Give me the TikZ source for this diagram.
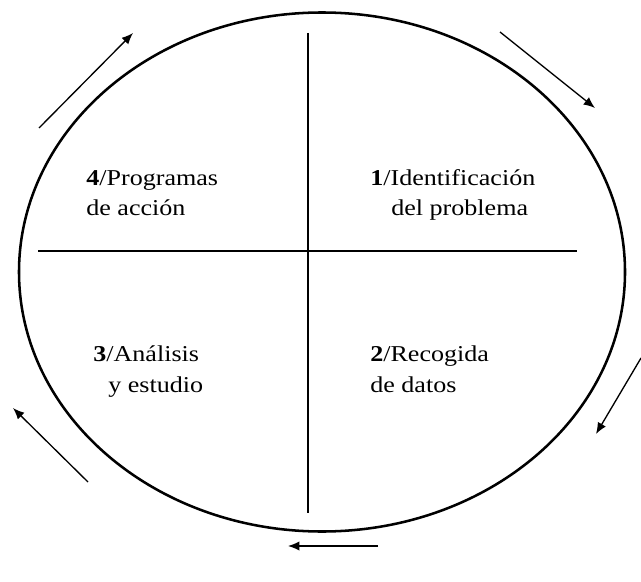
\documentclass[tikz,border=0pt]{standalone}
\usepackage{fontspec}
\setmainfont{Liberation Serif}
\usetikzlibrary{arrows.meta}
\begin{document}
\begin{tikzpicture}[x=0.75pt,y=-0.75pt,
  cycleline/.style={line width=1.9pt},
  divider/.style={line width=1.5pt},
  flow/.style={line width=1pt,-{Latex[length=8.5pt,width=7pt]}},
  label/.style={anchor=base west,inner sep=0pt,xscale=1.15,font=\fontsize{17}{22.5}\selectfont}]
\useasboundingbox (0,0) rectangle (641,581);
% outer cycle
\draw[cycleline] (322,272) ellipse [x radius=303, y radius=259.5];
% quadrant dividers
\coordinate (vt) at (308,33);
\coordinate (vb) at (308,513);
\coordinate (hl) at (38,251);
\coordinate (hr) at (577,251);
\draw[divider] (vt) -- (vb);
\draw[divider] (hl) -- (hr);
% quadrant labels
\node[label] (q4a) at (86,185) {\textbf{4}/Programas};
\node[label] (q4b) at (86,215) {de acción};
\node[label] (q1a) at (370,185) {\textbf{1}/Identificación};
\node[label] (q1b) at (391,215) {del problema};
\node[label] (q3a) at (93,361) {\textbf{3}/Análisis};
\node[label] (q3b) at (108,392) {y estudio};
\node[label] (q2a) at (370,361) {\textbf{2}/Recogida};
\node[label] (q2b) at (370,392) {de datos};
% direction of the cycle
\coordinate (a1s) at (39,128);  \coordinate (a1e) at (133,33);
\coordinate (a2s) at (500,32);  \coordinate (a2e) at (595,108);
\coordinate (a3s) at (641,358); \coordinate (a3e) at (596,434);
\coordinate (a4s) at (378,546); \coordinate (a4e) at (288,546);
\coordinate (a5s) at (88,482);  \coordinate (a5e) at (13,408);
\draw[flow] (a1s) -- (a1e);
\draw[flow] (a2s) -- (a2e);
\draw[flow] (a3s) -- (a3e);
\draw[flow] (a4s) -- (a4e);
\draw[flow] (a5s) -- (a5e);
\end{tikzpicture}
\end{document}
